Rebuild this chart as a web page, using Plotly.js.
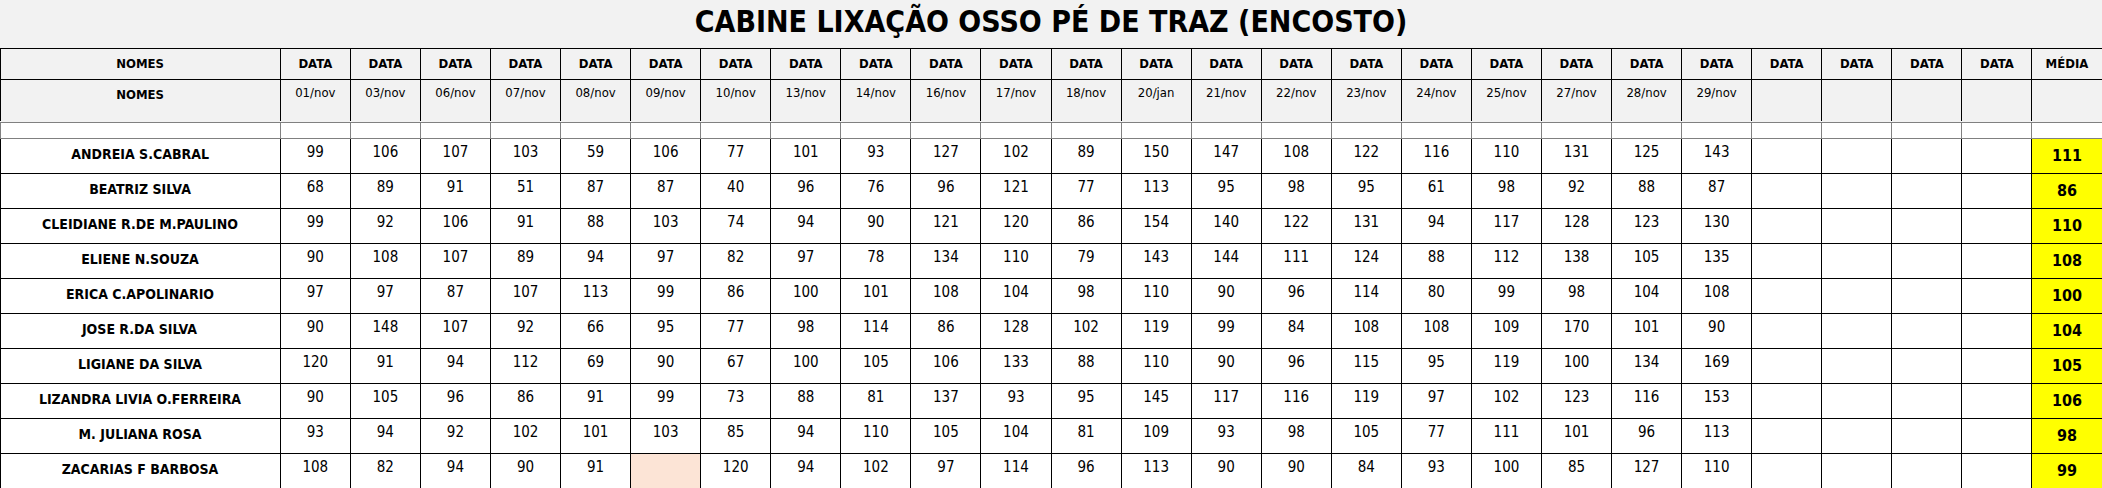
<!DOCTYPE html>
<html>
<head>
<meta charset="utf-8">
<script src="https://cdn.plot.ly/plotly-3.0.1.min.js"></script>
<style>body{margin:0;background:#f2f2f2;} #chart{width:2102px;height:488px;}</style>
</head>
<body>
<div id="chart"></div>
<script>
// dados da planilha
var names = ["ANDREIA S.CABRAL", "BEATRIZ SILVA", "CLEIDIANE R.DE M.PAULINO", "ELIENE N.SOUZA",
  "ERICA C.APOLINARIO", "JOSE R.DA SILVA", "LIGIANE DA SILVA", "LIZANDRA LIVIA O.FERREIRA",
  "M. JULIANA ROSA", "ZACARIAS F BARBOSA"];
var dates = ["01/nov","03/nov","06/nov","07/nov","08/nov","09/nov","10/nov","13/nov","14/nov","16/nov",
  "17/nov","18/nov","20/jan","21/nov","22/nov","23/nov","24/nov","25/nov","27/nov","28/nov","29/nov"];
var andreia = [99,106,107,103,59,106,77,101,93,127,102,89,150,147,108,122,116,110,131,125,143];
var beatriz = [68,89,91,51,87,87,40,96,76,96,121,77,113,95,98,95,61,98,92,88,87];
var cleidiane = [99,92,106,91,88,103,74,94,90,121,120,86,154,140,122,131,94,117,128,123,130];
var eliene = [90,108,107,89,94,97,82,97,78,134,110,79,143,144,111,124,88,112,138,105,135];
var erica = [97,97,87,107,113,99,86,100,101,108,104,98,110,90,96,114,80,99,98,104,108];
var jose = [90,148,107,92,66,95,77,98,114,86,128,102,119,99,84,108,108,109,170,101,90];
var ligiane = [120,91,94,112,69,90,67,100,105,106,133,88,110,90,96,115,95,119,100,134,169];
var lizandra = [90,105,96,86,91,99,73,88,81,137,93,95,145,117,116,119,97,102,123,116,153];
var juliana = [93,94,92,102,101,103,85,94,110,105,104,81,109,93,98,105,77,111,101,96,113];
var zacarias = [108,82,94,90,91,null,120,94,102,97,114,96,113,90,90,84,93,100,85,127,110];
var somaTotal = [954,1012,981,923,859,879,781,962,950,1117,1129,891,1266,1105,1019,1117,909,1077,1166,1119,1238];
var lotesDia = [1079,983,1135,1280,1324,843,1134,975,995,1012,1028,1141,884,1021,954,1259,1166,1321,880,1235,1141];
var numeroLote = [37457,37459,37462,37464,37505,37508,37510,37519,37522,37524,37562,37565,37568,37571,37573,37579,37582,37584,37609,37612,37614];
var media = [111,86,110,108,100,104,105,106,98,99];
var mediaSoma = 1022, mediaLotes = 1085;
var blankCols = 4;

var people = [andreia, beatriz, cleidiane, eliene, erica, jose, ligiane, lizandra, juliana, zacarias];
var FONT = "'Liberation Sans Narrow', 'DejaVu Sans Condensed', Arial, sans-serif";
var ORANGE = "#e46c0a";

// tabela de cima: DATA + datas
var headVals = [["<b>NOMES</b>"]], dateVals = [["<b>NOMES</b>"]];
for (var i = 0; i < dates.length + blankCols; i++) {
  headVals.push(["<b>DATA</b>"]);
  dateVals.push([i < dates.length ? dates[i] : ""]);
}
headVals.push(["<b>MÉDIA</b>"]); dateVals.push([""]);

// tabela de baixo
var cols = [], fills = [], colors = [];
var c0 = names.map(function (n) { return "<b>" + n + "</b>"; });
c0.push("<b>soma total  do dia</b>", "<b>LOTES PRODUZIDO DIA</b>", "<b>NÚMERO DO LOTE</b>");
cols.push(c0);
var baseFill = [], baseColor = [];
for (var r = 0; r < people.length; r++) { baseFill.push("white"); baseColor.push("black"); }
baseFill.push("#f2f2f2", "#e4dfec", "#f2f2f2");
baseColor.push(ORANGE, "black", "black");
fills.push(baseFill.slice()); colors.push(baseColor.slice());

for (var j = 0; j < dates.length + blankCols; j++) {
  var col = [], f = baseFill.slice(), c = baseColor.slice();
  for (var r = 0; r < people.length; r++) {
    var v = j < dates.length ? people[r][j] : null;
    col.push(v === null ? "" : String(v));
    if (j < dates.length && v === null) f[r] = "#fce4d6";
  }
  if (j < dates.length) {
    col.push("<b>" + somaTotal[j] + "</b>", String(lotesDia[j]), String(numeroLote[j]));
  } else {
    col.push("<b>0</b>", "", "");
    c[people.length] = "white";
  }
  cols.push(col); fills.push(f); colors.push(c);
}
var mcol = media.map(function (m) { return "<b>" + m + "</b>"; });
mcol.push("<b>" + mediaSoma + "</b>", "<b>" + mediaLotes + "</b>", "");
var mfill = media.map(function () { return "#ffff00"; });
mfill.push("#ffc000", "#ffc000", "#f2f2f2");
cols.push(mcol); fills.push(mfill);
colors.push(mcol.map(function () { return "black"; }));

var widths = [280];
for (var k = 0; k < dates.length + blankCols + 1; k++) widths.push(70);

var sizes = [14];
for (var k = 0; k < dates.length + blankCols; k++) sizes.push(15);
sizes.push(16);

var headTable = {
  type: "table",
  domain: {x: [0, 1], y: [0.75, 0.9016]},
  columnwidth: widths,
  header: {values: headVals, height: 29, fill: {color: "#f2f2f2"}, align: "center",
    line: {color: "black", width: 1}, font: {family: FONT, size: 13, color: "black"}},
  cells: {values: dateVals, height: 45, fill: {color: "#f2f2f2"}, align: "center",
    line: {color: "black", width: 1}, font: {family: FONT, size: 13, color: "black"}}
};
var bodyTable = {
  type: "table",
  domain: {x: [0, 1], y: [0, 0.75]},
  columnwidth: widths,
  header: {values: [], height: 0},
  cells: {values: cols, height: 28, align: "center",
    fill: {color: fills}, line: {color: "black", width: 1},
    font: {family: FONT, size: sizes, color: colors}}
};
var layout = {
  width: 2102, height: 488,
  margin: {l: 0, r: 0, t: 0, b: 0},
  paper_bgcolor: "#f2f2f2",
  title: {text: "<b>CABINE LIXAÇÃO OSSO PÉ DE TRAZ (ENCOSTO)</b>", x: 0.5, y: 0.955, yanchor: "middle",
    font: {family: FONT, size: 30, color: "black"}}
};
Plotly.newPlot("chart", [headTable, bodyTable], layout, {displayModeBar: false});
</script>
</body>
</html>
